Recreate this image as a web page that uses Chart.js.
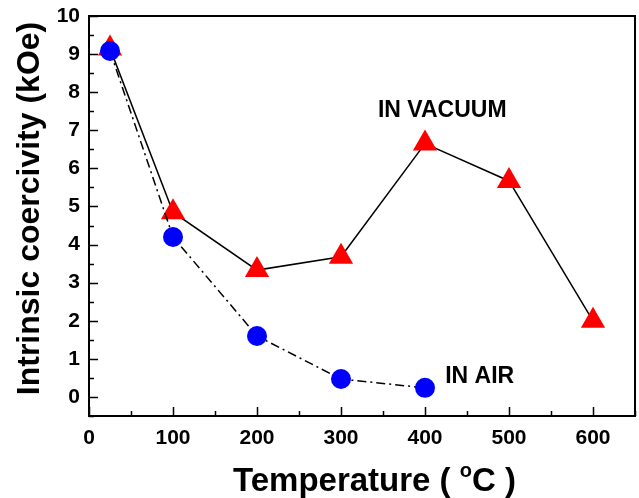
<!DOCTYPE html>
<html>
<head>
<meta charset="utf-8">
<script src="https://cdn.jsdelivr.net/npm/chart.js@4"></script>
<style>
  html, body { margin: 0; padding: 0; background: #fff; }
  #wrap { width: 639px; height: 498px; }
</style>
</head>
<body>
<div id="wrap"><canvas id="myChart" width="639" height="498"></canvas></div>
<script>
const temps = [25, 100, 200, 300, 400, 500, 600];
const vacuum = [9.15, 4.85, 3.33, 3.68, 6.65, 5.67, 2.0];
const airTemps = [25, 100, 200, 300, 400];
const air = [9.08, 4.2, 1.6, 0.47, 0.24];
const xTicks = [0, 100, 200, 300, 400, 500, 600];
const yTicks = [0, 1, 2, 3, 4, 5, 6, 7, 8, 9, 10];
const labels = [
  { text: 'IN VACUUM', x: 344, y: 7.35 },
  { text: 'IN AIR', x: 424, y: 0.37 }
];

const FONT = '"Liberation Sans", Arial, sans-serif';

const frame = {
  id: 'frame',
  beforeDatasetsDraw(chart) {
    const { ctx, chartArea: a, scales: { x, y } } = chart;
    ctx.save();
    ctx.strokeStyle = '#000';
    ctx.lineWidth = 2;
    ctx.strokeRect(a.left, a.top, a.right - a.left, a.bottom - a.top);
    ctx.lineWidth = 1.5;
    ctx.beginPath();
    // x ticks, pointing inward, minor every 50
    for (let v = 0; v <= 650; v += 50) {
      const px = Math.round(x.getPixelForValue(v)) + 0.5;
      const len = v % 100 === 0 ? 9 : 5;
      ctx.moveTo(px, a.bottom);
      ctx.lineTo(px, a.bottom - len);
    }
    // y ticks, minor every 0.5
    for (let v = -0.5; v <= 10; v += 0.5) {
      const py = Math.round(y.getPixelForValue(v)) + 0.5;
      const len = Number.isInteger(v) ? 9 : 5;
      ctx.moveTo(a.left, py);
      ctx.lineTo(a.left + len, py);
    }
    ctx.stroke();
    ctx.restore();
  },
  afterDraw(chart) {
    const { ctx, chartArea: a, scales: { x, y } } = chart;
    ctx.save();
    ctx.fillStyle = '#000';
    ctx.textBaseline = 'alphabetic';
    ctx.textAlign = 'left';
    ctx.font = 'bold 23px ' + FONT;
    labels.forEach(l => {
      ctx.fillText(l.text, x.getPixelForValue(l.x), y.getPixelForValue(l.y));
    });

    // x axis title with superscript o
    const p1 = 'Temperature ( ';
    const p3 = 'C )';
    ctx.font = 'bold 20px ' + FONT;
    const wo = ctx.measureText('o').width;
    ctx.font = 'bold 33px ' + FONT;
    const w1 = ctx.measureText(p1).width;
    const sx = 233;
    const base = 491;
    ctx.fillText(p1, sx, base);
    ctx.font = 'bold 20px ' + FONT;
    ctx.fillText('o', sx + w1, base - 14);
    ctx.font = 'bold 33px ' + FONT;
    ctx.fillText(p3, sx + w1 + wo, base);

    // y axis title
    ctx.translate(39, (a.top + y.getPixelForValue(0)) / 2 + 2);
    ctx.rotate(-Math.PI / 2);
    ctx.textAlign = 'center';
    ctx.font = 'bold 32px ' + FONT;
    ctx.fillText('Intrinsic coercivity (kOe)', 0, 0);
    ctx.restore();
  }
};

new Chart(document.getElementById('myChart'), {
  type: 'line',
  data: {
    datasets: [
      {
        label: 'In air',
        data: airTemps.map((t, i) => ({ x: t, y: air[i] })),
        borderColor: '#000',
        borderWidth: 1.5,
        borderDash: [9, 4, 2, 4],
        pointStyle: 'circle',
        pointRadius: 10,
        pointBackgroundColor: '#0000ff',
        pointBorderColor: '#0000ff',
        pointBorderWidth: 0
      },
      {
        label: 'In vacuum',
        data: temps.map((t, i) => ({ x: t, y: vacuum[i] })),
        borderColor: '#000',
        borderWidth: 1.5,
        pointStyle: 'triangle',
        pointRadius: 14,
        pointBackgroundColor: '#ff0000',
        pointBorderColor: '#ff0000',
        pointBorderWidth: 0
      }
    ]
  },
  options: {
    responsive: false,
    animation: false,
    layout: { autoPadding: false, padding: { top: 16, right: 4, left: 0, bottom: 0 } },
    plugins: { legend: { display: false }, tooltip: { enabled: false } },
    scales: {
      x: {
        type: 'linear',
        min: 0,
        max: 650,
        afterBuildTicks: s => { s.ticks = xTicks.map(v => ({ value: v })); },
        afterFit: s => { s.height = 82; s.paddingLeft = 0; s.paddingRight = 0; },
        grid: { display: false, drawTicks: false },
        border: { display: false },
        ticks: { color: '#000', padding: 10, font: { family: FONT, size: 21, weight: 'bold' } }
      },
      y: {
        min: -0.5,
        max: 10,
        afterBuildTicks: s => { s.ticks = yTicks.map(v => ({ value: v })); },
        afterFit: s => { s.width = 89; s.paddingTop = 0; s.paddingBottom = 0; },
        grid: { display: false, drawTicks: false },
        border: { display: false },
        ticks: { color: '#000', padding: 9, font: { family: FONT, size: 21, weight: 'bold' } }
      }
    }
  },
  plugins: [frame]
});
</script>
</body>
</html>
